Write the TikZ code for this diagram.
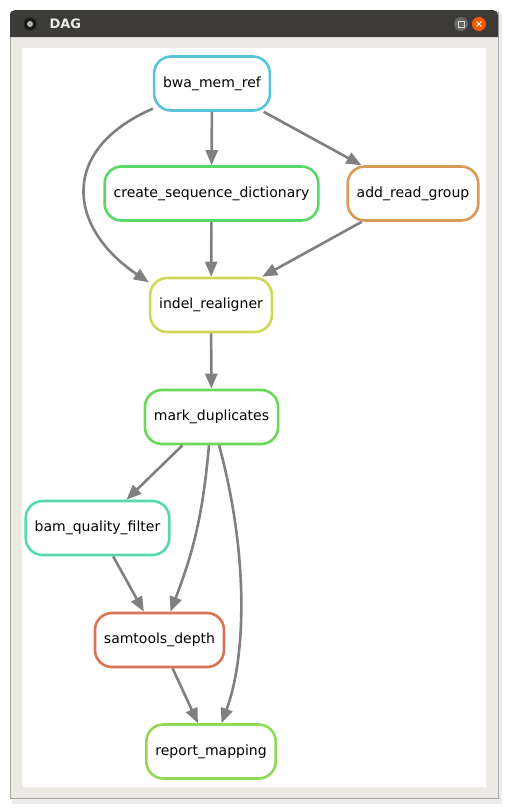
\documentclass[tikz,border=0pt]{standalone}
\usepackage{fontspec}
\setmainfont{DejaVu Sans}
\usetikzlibrary{arrows.meta}
\definecolor{titlebar}{HTML}{3C3B37}
\definecolor{winbody}{HTML}{EDEAE6}
\definecolor{winedge}{HTML}{A9A6A2}
\definecolor{edgegray}{HTML}{808080}
\definecolor{bwacol}{HTML}{57C4D9}
\definecolor{csdcol}{HTML}{57D968}
\definecolor{argcol}{HTML}{D99A57}
\definecolor{indelcol}{HTML}{CFD957}
\definecolor{markcol}{HTML}{6BD957}
\definecolor{bqfcol}{HTML}{57D9B0}
\definecolor{depthcol}{HTML}{D97357}
\definecolor{reportcol}{HTML}{8FD957}
\tikzset{
  rule/.style={draw=#1, line width=2.6pt, rounded corners=17pt, fill=white,
    minimum height=54pt, inner xsep=9pt, font=\fontsize{14}{16}\selectfont},
  dep/.style={draw=edgegray, line width=2.6pt, -{Triangle[length=15pt,width=12pt]}}
}
\begin{document}
\begin{tikzpicture}[x=1pt,y=-1pt]
      \useasboundingbox (0,0) rectangle (508,809);
      % window
      \fill[black,opacity=.07] (12,14) rectangle (502,804);
      \fill[winbody,draw=winedge,line width=1pt] (10,12) rectangle (498,798);
      \fill[titlebar] (10,37) {[rounded corners=5pt] -- (10,10) -- (498,10)} -- (498,37) -- cycle;
      \fill[white] (22,48) rectangle (486,787);
      \fill[black!55!titlebar] (30,24) circle (6.5pt);
      \fill[gray!60] (30,24) circle (3pt);
      \node[anchor=west,text=white!85!gray,font=\fontsize{13}{15}\selectfont\bfseries] (title) at (46,24) {DAG};
      \fill[gray!80!black] (461,24) circle (7pt);
      \draw[gray!30,line width=.8pt] (458,21) rectangle (464,27);
      \fill[orange!70!red] (479,24) circle (7pt);
      \draw[white,line width=.8pt] (476.5,21.5) -- (481.5,26.5) (476.5,26.5) -- (481.5,21.5);
      % rules
      \draw
        (212,83.5) node[rule=bwacol] (bwa){bwa\_mem\_ref}
        (211.5,193.5) node[rule=csdcol] (csd){create\_sequence\_dictionary}
        (413,193.5) node[rule=argcol] (arg){add\_read\_group}
        (211,305) node[rule=indelcol] (indel){indel\_realigner}
        (211.5,417) node[rule=markcol] (mark){mark\_duplicates}
        (97.5,528) node[rule=bqfcol] (bqf){bam\_quality\_filter}
        (159.5,640) node[rule=depthcol] (depth){samtools\_depth}
        (211,751.5) node[rule=reportcol] (report){report\_mapping};
      \begin{scope}[dep]
        \draw (bwa) to (csd);
        \draw (bwa) to (arg);
        \draw (bwa.203) .. controls (58,150) and (68,228) .. (indel.160);
        \draw (csd) to (indel);
        \draw (arg) to (indel);
        \draw (indel) to (mark);
        \draw (mark) to (bqf);
        \draw (mark) to[bend left=8] (depth);
        \draw (mark) .. controls (250,560) and (245,660) .. (report);
        \draw (bqf) to (depth);
        \draw (depth) to (report);
      \end{scope}
    \end{tikzpicture}
\end{document}
